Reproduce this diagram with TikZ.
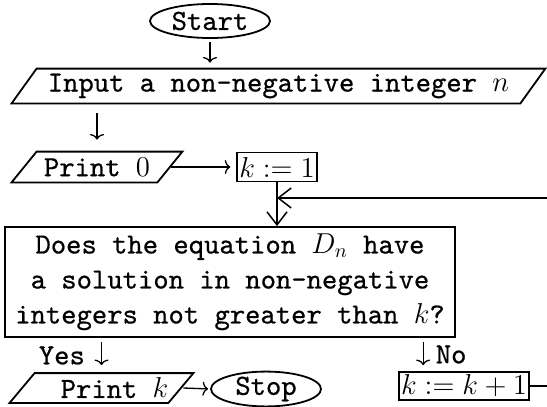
\documentclass[tikz,border=0pt]{standalone}
\usepackage{fontspec}
\setmonofont{lmmono10-regular.otf}[FakeBold=0.6]
\usetikzlibrary{shapes.geometric,arrows.meta,calc}
\tikzset{
  every node/.style={font=\fontsize{14.6}{17.5}\selectfont\ttfamily, inner sep=0pt},
  outline/.style={draw, line width=0.9pt},
  thin arrow/.style={line width=0.65pt, -{Computer Modern Rightarrow[length=2.8pt,width=7pt]}},
  barb arrow/.style={line width=0.75pt, -{Straight Barb[length=6.5pt,width=10pt]}},
  plain line/.style={line width=0.75pt}
}
% parallelogram drawn round a named node; #2 is the horizontal slant
\newcommand{\slantbox}[2]{%
  \draw[line width=0.9pt] (#1.south west) -- ([xshift=#2]#1.north west)
    -- (#1.north east) -- ([xshift=-#2]#1.south east) -- cycle;}
\begin{document}
\begin{tikzpicture}[x=0.5pt,y=-0.5pt]
\useasboundingbox (0,0) rectangle (547,407);

% nodes
\node[ellipse, outline, minimum width=60pt, minimum height=17pt] (start) at (210,21) {Start};
\node[minimum width=266.5pt, minimum height=17pt] (inp) at (278.5,86) {Input a non-negative integer $n$};
\slantbox{inp}{12.5pt}
\node[minimum width=85pt, minimum height=15pt] (p0) at (97,167) {Print $0$};
\slantbox{p0}{12.5pt}
\node[outline, inner xsep=1pt, minimum height=14.5pt] (k1) at (277,167) {$k := 1$};
\node[outline, align=center, minimum width=225pt, minimum height=55pt] (q) at (230,282)
  {Does the equation $D_n$ have\\a solution in non-negative\\integers not greater than $k$?};
\node[minimum width=91.5pt, minimum height=14.5pt] (pk) at (101.5,388) {\hspace*{13pt}Print $k$};
\slantbox{pk}{12.5pt}
\node[ellipse, outline, minimum width=55pt, minimum height=17pt] (stop) at (266,389) {Stop};
\node[outline, inner xsep=1pt, minimum height=14pt] (kk) at (464,386) {$k := k + 1$};

\coordinate (edge) at (547,198);
\coordinate (nox) at ([xshift=12.5pt]kk.north west);

% connectors
\draw[thin arrow, shorten <=1.5pt, shorten >=3pt] (start.south) -- (start.south |- inp.north);
\draw[thin arrow, shorten <=5pt, shorten >=6pt] (p0.north |- inp.south) -- (p0.north);
\draw[thin arrow, shorten >=3pt] ([xshift=-5.5pt]p0.east) -- (k1.west);
\draw[barb arrow] (k1.south) -- (k1.south |- q.north);
\draw[barb arrow] (edge) -- (edge -| k1.south);
\draw[thin arrow, shorten <=2pt, shorten >=4pt] (q.south -| pk.north) -- (pk.north)
  node[midway, left=8pt] (yes) {Yes};
\draw[thin arrow, shorten <=2pt, shorten >=3pt] (q.south -| nox) -- (nox)
  node[midway, right=6pt] (no) {No};
\draw[thin arrow, shorten >=1pt] ([xshift=-5pt]pk.east) -- (stop.west);
\draw[plain line] (kk.east) -- (kk.east -| edge);
\end{tikzpicture}
\end{document}
